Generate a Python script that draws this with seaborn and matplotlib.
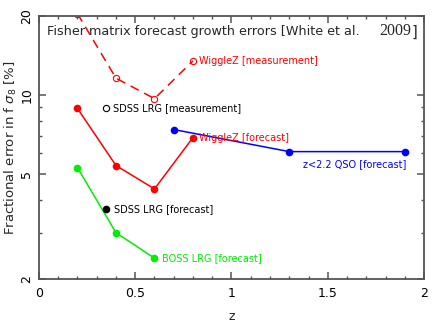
import matplotlib
matplotlib.use("Agg")
import matplotlib.pyplot as plt
import matplotlib.ticker as mticker
import seaborn as sns

# datos
z_wigglez = [0.2, 0.4, 0.6, 0.8]
wigglez_medicion = [20.4, 11.6, 9.7, 13.5]
wigglez_pronostico = [8.9, 5.4, 4.4, 6.9]

z_qso = [0.7, 1.3, 1.9]
qso_pronostico = [7.4, 6.1, 6.1]

z_boss = [0.2, 0.4, 0.6]
boss_pronostico = [5.3, 3.0, 2.4]

z_sdss = [0.35]
sdss_medicion = [8.9]
sdss_pronostico = [3.7]

ticks_x = [0, 0.5, 1, 1.5, 2]
ticks_y = [2, 5, 10, 20]

ROJO = "#ff0000"
AZUL = "#0000ff"
VERDE = "#00ee00"


def configurar_estilo():
    sns.set_style("ticks")
    plt.rcParams.update(
        {
            "font.family": ["DejaVu Sans"],
            "mathtext.fontset": "dejavusans",
            "font.size": 8,
            "axes.edgecolor": "#555555",
            "axes.linewidth": 1.3,
            "xtick.direction": "in",
            "ytick.direction": "in",
            "xtick.top": True,
            "ytick.right": True,
            "xtick.color": "#555555",
            "ytick.color": "#555555",
            "xtick.labelcolor": "black",
            "ytick.labelcolor": "black",
        }
    )


def grafico_errores():
    fig = plt.figure(figsize=(4.36, 3.26), dpi=100)
    ax = fig.add_axes([0.0894, 0.1442, 0.8831, 0.8068])

    sns.lineplot(x=z_wigglez, y=wigglez_medicion, color=ROJO, linestyle=(0, (6, 4)),
                 linewidth=1.1, marker="o", markersize=4.5, markerfacecolor="none",
                 markeredgecolor=ROJO, markeredgewidth=0.8, ax=ax)
    sns.lineplot(x=z_wigglez, y=wigglez_pronostico, color=ROJO, linewidth=1.1,
                 marker="o", markersize=5.5, markeredgewidth=0, ax=ax)
    sns.lineplot(x=z_qso, y=qso_pronostico, color=AZUL, linewidth=1.1,
                 marker="o", markersize=5.5, markeredgewidth=0, ax=ax)
    sns.lineplot(x=z_boss, y=boss_pronostico, color=VERDE, linewidth=1.1,
                 marker="o", markersize=5.5, markeredgewidth=0, ax=ax)
    ax.plot(z_sdss, sdss_medicion, "o", markersize=4.5, markerfacecolor="none",
            markeredgecolor="black", markeredgewidth=0.8)
    ax.plot(z_sdss, sdss_pronostico, "o", markersize=5.5, color="black",
            markeredgewidth=0)

    ax.set_yscale("log")
    ax.set_xlim(0, 2)
    ax.set_ylim(2, 20)
    ax.set_xticks(ticks_x)
    ax.set_xticklabels([f"{t:g}" for t in ticks_x], fontsize=9)
    ax.xaxis.set_minor_locator(mticker.MultipleLocator(0.1))
    ax.set_yticks(ticks_y)
    ax.set_yticklabels([str(t) for t in ticks_y], rotation=90, va="center", fontsize=9)
    ax.yaxis.set_minor_locator(mticker.LogLocator(subs=range(2, 10)))
    ax.yaxis.set_minor_formatter(mticker.NullFormatter())
    ax.tick_params(which="major", length=5, width=1.1, pad=4)
    ax.tick_params(which="minor", length=2.5, width=1.0)
    ax.tick_params(axis="x", which="major", pad=6)

    ax.set_xlabel("z", labelpad=7, fontsize=9)
    ax.set_ylabel(r"Fractional error in f $\sigma_8$ [%]", labelpad=1, fontsize=9.5)

    y_titulo = 0.929
    ax.text(0.021, y_titulo, "Fisher matrix forecast growth errors [White et al.",
            transform=ax.transAxes, fontsize=9.2, va="baseline", ha="left")
    ax.text(0.884, y_titulo, "2009", transform=ax.transAxes, fontsize=11.5,
            va="baseline", ha="left", family="Liberation Serif")
    ax.text(0.968, y_titulo - 0.008, "]", transform=ax.transAxes, fontsize=10.5,
            va="baseline", ha="left")

    ax.text(0.83, wigglez_medicion[3], "WiggleZ [measurement]", color=ROJO,
            va="center", fontsize=7)
    ax.text(0.385, sdss_medicion[0], "SDSS LRG [measurement]", color="black",
            va="center", fontsize=7)
    ax.text(0.83, wigglez_pronostico[3], "WiggleZ [forecast]", color=ROJO,
            va="center", fontsize=7)
    ax.text(1.37, 5.45, "z<2.2 QSO [forecast]", color=AZUL, va="center", fontsize=7)
    ax.text(0.39, sdss_pronostico[0], "SDSS LRG [forecast]", color="black",
            va="center", fontsize=7)
    ax.text(0.64, boss_pronostico[2], "BOSS LRG [forecast]", color=VERDE,
            va="center", fontsize=7)

    fig.savefig("out.png", dpi=100)


configurar_estilo()
grafico_errores()
